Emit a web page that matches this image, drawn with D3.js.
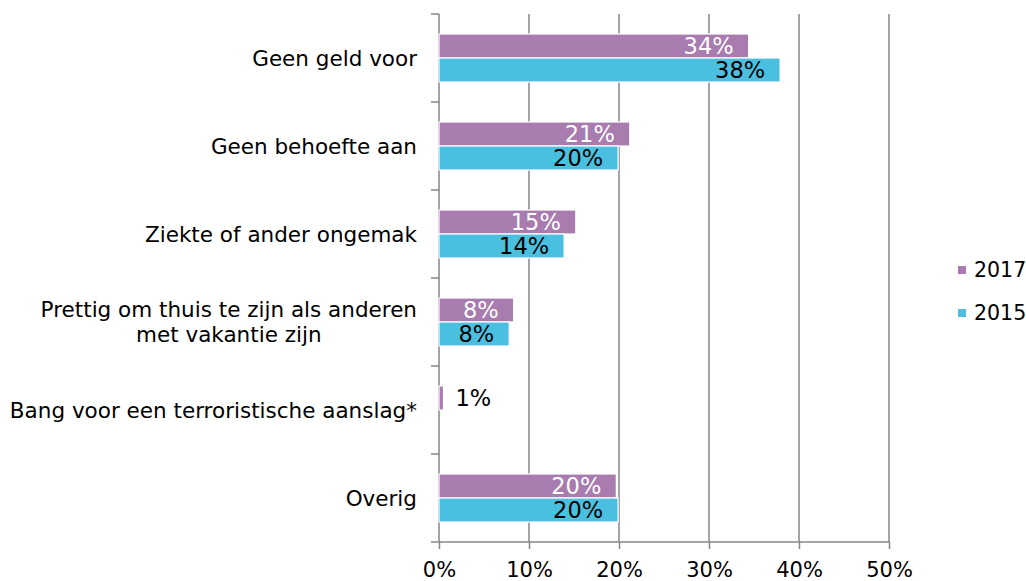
<!DOCTYPE html>
<html>
<head>
<meta charset="utf-8">
<script src="https://cdn.jsdelivr.net/npm/d3@7"></script>
<style>
  body { margin: 0; background: #fff; }
  text { font-family: "DejaVu Sans", Verdana, sans-serif; }
</style>
</head>
<body>
<script>
// chart data
var categories = [
  ["Geen geld voor"],
  ["Geen behoefte aan"],
  ["Ziekte of ander ongemak"],
  ["Prettig om thuis te zijn als anderen", "met vakantie zijn"],
  ["Bang voor een terroristische aanslag*"],
  ["Overig"]
];
var seriesNames = ["2017", "2015"];
var values2017 = [34.4, 21.2, 15.2, 8.3, 0.5, 19.7];
var values2015 = [37.9, 19.9, 13.9, 7.8, null, 19.9];
var xTicks = [0, 10, 20, 30, 40, 50];
var colors = ["#a87cae", "#4bbfdf"];

var width = 1026, height = 581;
var margin = {top: 14, right: 137, bottom: 39, left: 439};

var svg = d3.select("body").append("svg")
    .attr("width", width)
    .attr("height", height);

var x = d3.scaleLinear().domain([0, 50]).range([margin.left, width - margin.right]);
var y = d3.scaleBand().domain(d3.range(categories.length))
    .range([margin.top, height - margin.bottom]);
var ySub = d3.scaleBand().domain(d3.range(seriesNames.length))
    .range([0, y.bandwidth()]).paddingOuter(0.833);

var gridColor = "#868686";

// vertical gridlines
svg.append("g")
  .selectAll("line")
  .data(xTicks.slice(1))
  .enter().append("line")
    .attr("x1", d => x(d)).attr("x2", d => x(d))
    .attr("y1", margin.top).attr("y2", height - margin.bottom)
    .attr("stroke", gridColor).attr("stroke-width", 1.5);

// x axis
var xAxis = svg.append("g")
    .attr("transform", "translate(0," + (height - margin.bottom) + ")")
    .call(d3.axisBottom(x).tickValues(xTicks).tickSize(7).tickSizeOuter(0)
      .tickFormat(d => d + "%"));
xAxis.select(".domain").attr("stroke", gridColor).attr("stroke-width", 1.5)
    .attr("d", "M" + (margin.left - 8) + ",0H" + x(50));
xAxis.selectAll(".tick line").attr("stroke", gridColor).attr("stroke-width", 1.5);
xAxis.selectAll(".tick text").attr("font-size", 21).attr("fill", "#000")
    .attr("font-family", "DejaVu Sans, Verdana, sans-serif").attr("dy", "1.19em");

// y axis line with ticks on band boundaries
var yAxis = svg.append("g");
yAxis.append("line")
    .attr("x1", margin.left).attr("x2", margin.left)
    .attr("y1", margin.top).attr("y2", height - margin.bottom)
    .attr("stroke", gridColor).attr("stroke-width", 1.5);
yAxis.selectAll(".ytick")
  .data(d3.range(categories.length))
  .enter().append("line")
    .attr("x1", margin.left - 8).attr("x2", margin.left)
    .attr("y1", d => y(d)).attr("y2", d => y(d))
    .attr("stroke", gridColor).attr("stroke-width", 1.5);

// category labels (block right-aligned, lines centred)
var labels = svg.append("g").selectAll("text")
  .data(categories)
  .enter().append("text")
    .attr("text-anchor", "middle")
    .attr("font-size", 21.5)
    .attr("fill", "#000");
labels.each(function(lines, i) {
  var t = d3.select(this);
  var cy = y(i) + y.bandwidth() / 2;
  var lh = 25;
  var startY = cy - (lines.length - 1) * lh / 2;
  var spans = lines.map(function(line, j) {
    return t.append("tspan").attr("x", 0).attr("y", startY + j * lh).attr("dy", "0.35em").text(line);
  });
  var w = d3.max(spans, s => s.node().getComputedTextLength());
  spans.forEach(s => s.attr("x", margin.left - 22 - w / 2));
});

// bars
var series = [values2017, values2015];
series.forEach(function(vals, s) {
  var g = svg.append("g");
  vals.forEach(function(v, i) {
    if (v == null) return;
    var by = y(i) + ySub(s);
    g.append("rect")
      .attr("x", x(0))
      .attr("y", by)
      .attr("width", x(v) - x(0))
      .attr("height", ySub.bandwidth())
      .attr("fill", colors[s])
      .attr("stroke", "#fff").attr("stroke-width", 1.2);
    var inside = (x(v) - x(0)) > 50;
    g.append("text")
      .attr("x", inside ? x(v) - 15 : x(v) + 12)
      .attr("y", by + ySub.bandwidth() / 2)
      .attr("dy", "0.36em")
      .attr("text-anchor", inside ? "end" : "start")
      .attr("font-size", 22.5)
      .attr("fill", inside && s === 0 ? "#fff" : "#000")
      .text(Math.round(v) + "%");
  });
});

// legend
var legend = svg.append("g")
  .selectAll("g")
  .data(seriesNames)
  .enter().append("g")
    .attr("transform", (d, i) => "translate(958," + (270 + i * 43) + ")");
legend.append("rect")
    .attr("x", 0).attr("y", -4).attr("width", 8).attr("height", 8)
    .attr("fill", (d, i) => colors[i]);
legend.append("text")
    .attr("x", 16).attr("dy", "0.36em")
    .attr("font-size", 20.5)
    .text(d => d);
</script>
</body>
</html>
